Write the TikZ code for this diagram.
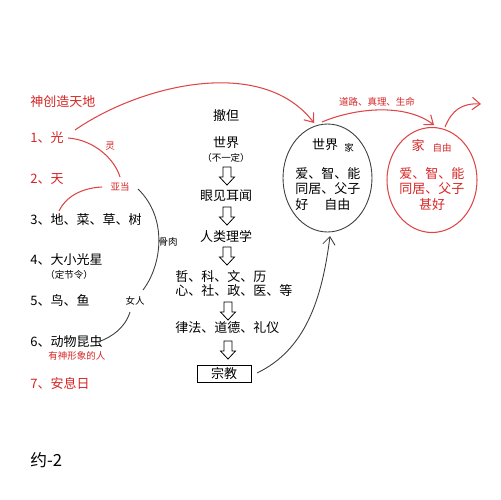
\documentclass[tikz,border=0pt]{standalone}
\usepackage{fontspec}
\setmainfont{Noto Sans CJK SC}
\usetikzlibrary{shapes.geometric,arrows.meta}
\definecolor{myred}{RGB}{214,36,36}
\definecolor{linered}{RGB}{222,70,70}
\definecolor{linegray}{RGB}{60,60,60}
\tikzset{
  txt/.style={inner sep=0pt, font=\fontsize{7.4pt}{8pt}\selectfont},
  small/.style={inner sep=0pt, font=\fontsize{5.4pt}{6pt}\selectfont},
  redt/.style={text=myred},
  lft/.style={anchor=west},
  redline/.style={draw=linered, line width=0.6pt},
  blkline/.style={draw=linegray, line width=0.5pt},
  tip/.style={-{Straight Barb[length=4.5pt,width=7pt]}},
  pics/hollowdown/.style={code={
    \draw[fill=white, line width=0.45pt] (-4,0) -- (4,0) -- (4,10) -- (7.5,10) -- (0,18) -- (-7.5,10) -- (-4,10) -- cycle;
  }}
}
\begin{document}
\begin{tikzpicture}[x=0.02cm,y=-0.02cm]
\useasboundingbox (0,0) rectangle (500,500);
% left column
\node[txt,redt,lft] (title) at (30,102) {神创造天地};
\node[txt,redt,lft] (d1) at (30,138) {1、光};
\node[small,redt] (ling) at (110,146) {灵};
\node[txt,redt,lft] (d2) at (30,179) {2、天};
\node[small,redt] (adam) at (120,187) {亚当};
\node[txt,lft] (d3) at (30,220) {3、地、菜、草、树};
\node[small] (gurou) at (168,242) {骨肉};
\node[txt,lft] (d4) at (30,260) {4、大小光星};
\node[small,lft] (d4b) at (45,275) {（定节令）};
\node[txt,lft] (d5) at (30,301) {5、鸟、鱼};
\node[small] (nvren) at (135,301) {女人};
\node[txt,lft] (d6) at (30,342) {6、动物昆虫};
\node[small,redt,lft] (d6b) at (48,356) {有神形象的人};
\node[txt,redt,lft] (d7) at (30,383) {7、安息日};
\node[inner sep=0pt,font=\fontsize{9.5pt}{10pt}\selectfont,lft] (yue) at (30,460) {约-2};
% center column
\node[txt] (satan) at (226,116) {撤但};
\node[txt] (shijie) at (226,143) {世界};
\node[small] (budy) at (226,158) {（不一定）};
\pic at (227,167) {hollowdown};
\node[txt] (yanjian) at (226,196) {眼见耳闻};
\pic at (227,207) {hollowdown};
\node[txt] (renlei) at (226,236) {人类理学};
\pic at (227,247) {hollowdown};
\node[txt,lft] (zhe) at (175,277) {哲、科、文、历};
\node[txt,lft] (xin) at (175,291) {心、社、政、医、等};
\pic at (228,302) {hollowdown};
\node[txt,lft] (lvfa) at (175,328) {律法、道德、礼仪};
\pic at (228,341) {hollowdown};
\node[txt,draw,line width=0.5pt,minimum width=1.08cm,minimum height=0.34cm] (zongjiao) at (224,373.5) {宗教};
% circle 1
\node[ellipse,draw=linegray,line width=0.5pt,minimum width=1.78cm,minimum height=2.16cm,inner sep=0pt] (w1) at (327.5,178) {};
\node[txt] (w1t) at (325,145) {世界};
\node[small] (w1j) at (349,148) {家};
\node[txt,lft] (w1a) at (295,174) {爱、智、能};
\node[txt,lft] (w1b) at (295,189) {同居、父子};
\node[txt,lft] (w1c) at (295,205) {好};
\node[txt,lft] (w1d) at (324,205) {自由};
% circle 2
\node[ellipse,draw=linered,line width=0.6pt,minimum width=1.8cm,minimum height=2.1cm,inner sep=0pt] (w2) at (432,180) {};
\node[txt,redt] (w2t) at (418,146) {家};
\node[small,redt] (w2z) at (442,148) {自由};
\node[txt,redt,lft] (w2a) at (399,174) {爱、智、能};
\node[txt,redt,lft] (w2b) at (399,189) {同居、父子};
\node[txt,redt] (w2c) at (432,205) {甚好};
\node[small,redt] (dao) at (377,102) {道路、真理、生命};
% connectors
\coordinate (c1s) at (75,130);
\coordinate (c1e) at (314,123);
\draw[redline,tip] (c1s) .. controls (140,85) and (262,55) .. (c1e);
\coordinate (c2s) at (68,138);
\coordinate (c2e) at (120,177);
\draw[redline] (c2s) .. controls (95,140) and (115,160) .. (c2e);
\coordinate (c3s) at (102,187);
\coordinate (c3e) at (59,211);
\draw[redline] (c3s) .. controls (80,188) and (65,198) .. (c3e);
\coordinate (c4s) at (138,189);
\coordinate (c4e) at (143,290);
\draw[blkline] (c4s) .. controls (168,218) and (162,265) .. (c4e);
\coordinate (c5s) at (130,312);
\coordinate (c5e) at (98,342);
\draw[blkline] (c5s) .. controls (125,328) and (112,337) .. (c5e);
\coordinate (c6s) at (322,122);
\coordinate (c6e) at (434,125);
\draw[redline,tip] (c6s) .. controls (355,108) and (405,103) .. (c6e);
\coordinate (c7s) at (445,127);
\coordinate (c7e) at (481,104);
\draw[redline,tip] (c7s) .. controls (452,110) and (462,103) .. (c7e);
\coordinate (c8s) at (257,373);
\coordinate (c8e) at (330,236);
\draw[blkline,tip] (c8s) .. controls (305,350) and (322,300) .. (c8e);
\end{tikzpicture}
\end{document}
